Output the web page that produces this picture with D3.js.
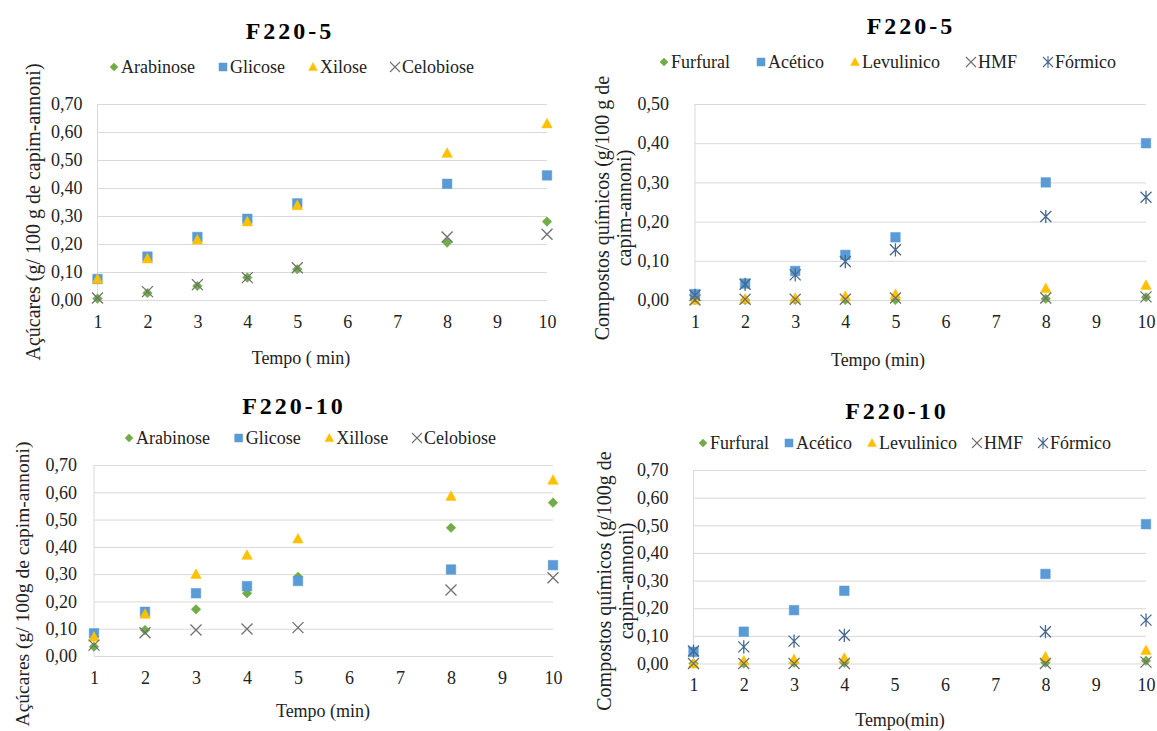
<!DOCTYPE html>
<html>
<head>
<meta charset="utf-8">
<script src="https://cdn.jsdelivr.net/npm/d3@7"></script>
<style>
  body { margin: 0; background: #fff; }
  svg text { font-family: "Liberation Serif", "Times New Roman", serif; }
</style>
</head>
<body>
<div id="chart"></div>
<script>
// x axis categories (Tempo, min) and sampling times
const categories = [1, 2, 3, 4, 5, 6, 7, 8, 9, 10];
const tempos = [1, 2, 3, 4, 5, 8, 10];
const temposSemCinco = [1, 2, 3, 4, 8, 10];

// y tick values
const ticksAcucares = [0, 0.1, 0.2, 0.3, 0.4, 0.5, 0.6, 0.7];
const ticksQuimicos5 = [0, 0.1, 0.2, 0.3, 0.4, 0.5];
const ticksQuimicos10 = [0, 0.1, 0.2, 0.3, 0.4, 0.5, 0.6, 0.7];

// F220-5, açúcares
const arabinose5 = [0.005, 0.025, 0.05, 0.08, 0.11, 0.205, 0.28];
const glicose5 = [0.075, 0.155, 0.225, 0.29, 0.345, 0.415, 0.445];
const xilose5 = [0.075, 0.148, 0.215, 0.28, 0.338, 0.525, 0.63];
const celobiose5 = [0.007, 0.03, 0.055, 0.08, 0.115, 0.225, 0.235];

// F220-5, compostos químicos
const furfural5 = [0, 0, 0, 0, 0, 0.003, 0.007];
const acetico5 = [0.015, 0.042, 0.074, 0.115, 0.16, 0.30, 0.40];
const levulinico5 = [0, 0.003, 0.005, 0.01, 0.015, 0.03, 0.038];
const hmf5 = [0, 0.002, 0.002, 0.002, 0.005, 0.005, 0.008];
const formico5 = [0.012, 0.04, 0.064, 0.098, 0.128, 0.213, 0.262];

// F220-10, açúcares
const arabinose10 = [0.034, 0.095, 0.171, 0.23, 0.29, 0.47, 0.562];
const glicose10 = [0.083, 0.162, 0.23, 0.256, 0.275, 0.317, 0.333];
const xilose10 = [0.07, 0.154, 0.30, 0.37, 0.43, 0.586, 0.645];
const celobiose10 = [0.04, 0.085, 0.095, 0.099, 0.104, 0.242, 0.287];

// F220-10, compostos químicos (no 5 min point)
const furfural10 = [0, 0, 0.003, 0.003, 0.003, 0.01];
const acetico10 = [0.042, 0.115, 0.193, 0.263, 0.324, 0.504];
const levulinico10 = [0, 0.01, 0.015, 0.02, 0.025, 0.048];
const hmf10 = [0, 0, 0, 0, 0, 0.005];
const formico10 = [0.045, 0.06, 0.081, 0.102, 0.115, 0.157];

const width = 1157;
const height = 731;

const colors = {
  green: "#70ad47",
  blue: "#5b9bd5",
  gold: "#ffc000",
  gray: "#707070",
  slate: "#44688f"
};

const fmt = v => d3.format(".2f")(v).replace(".", ",");

// marker paths, centred on 0,0
function marker(kind, r) {
  if (kind == "diamond") return `M0,${-r}L${r},0L0,${r}L${-r},0Z`;
  if (kind == "square") return `M${-r},${-r}H${r}V${r}H${-r}Z`;
  if (kind == "triangle") return `M0,${-r * 1.1}L${r * 1.1},${r * 0.9}L${-r * 1.1},${r * 0.9}Z`;
  if (kind == "times") return `M${-r},${-r}L${r},${r}M${-r},${r}L${r},${-r}`;
  // star: x with a vertical bar
  return `M${-r},${-r}L${r},${r}M${-r},${r}L${r},${-r}M0,${-r * 1.2}L0,${r * 1.2}`;
}
const filled = k => k == "diamond" || k == "square" || k == "triangle";

const panels = [
  {
    title: "F220-5", titleX: 290, titleY: 31,
    x0: 97.5, x1: 547, yZero: 300, yTop: 104, yMax: 0.7, yTicks: ticksAcucares, tickPad: 15,
    legendY: 67, legendStart: 109, legendEnd: 474,
    yTitle: ["Açúcares (g/ 100 g de capim-annoni)"], yTitleX: 33, yTitleY: 212, yTitleSize: 20,
    xTitle: "Tempo ( min)", xTitleX: 301, xTitleY: 358,
    series: [
      { name: "Arabinose", times: tempos, values: arabinose5, shape: "diamond", color: colors.green },
      { name: "Glicose", times: tempos, values: glicose5, shape: "square", color: colors.blue },
      { name: "Xilose", times: tempos, values: xilose5, shape: "triangle", color: colors.gold },
      { name: "Celobiose", times: tempos, values: celobiose5, shape: "times", color: colors.gray }
    ]
  },
  {
    title: "F220-5", titleX: 911, titleY: 26,
    x0: 695, x1: 1146, yZero: 300, yTop: 104, yMax: 0.5, yTicks: ticksQuimicos5, tickPad: 26,
    legendY: 62, legendStart: 659, legendEnd: 1116,
    yTitle: ["Compostos químicos  (g/100 g de", "capim-annoni)"], yTitleX: 602, yTitleY: 208, yTitleSize: 20,
    xTitle: "Tempo (min)", xTitleX: 878, xTitleY: 360,
    series: [
      { name: "Furfural", times: tempos, values: furfural5, shape: "diamond", color: colors.green },
      { name: "Acético", times: tempos, values: acetico5, shape: "square", color: colors.blue },
      { name: "Levulinico", times: tempos, values: levulinico5, shape: "triangle", color: colors.gold },
      { name: "HMF", times: tempos, values: hmf5, shape: "times", color: colors.gray },
      { name: "Fórmico", times: tempos, values: formico5, shape: "star", color: colors.slate }
    ]
  },
  {
    title: "F220-10", titleX: 294, titleY: 406,
    x0: 94, x1: 553, yZero: 656, yTop: 465, yMax: 0.7, yTicks: ticksAcucares, tickPad: 17,
    legendY: 438, legendStart: 124, legendEnd: 496,
    yTitle: ["Açúcares (g/ 100g de capim-annoni)"], yTitleX: 22, yTitleY: 584, yTitleSize: 19.5,
    xTitle: "Tempo (min)", xTitleX: 323, xTitleY: 711,
    series: [
      { name: "Arabinose", times: tempos, values: arabinose10, shape: "diamond", color: colors.green },
      { name: "Glicose", times: tempos, values: glicose10, shape: "square", color: colors.blue },
      { name: "Xillose", times: tempos, values: xilose10, shape: "triangle", color: colors.gold },
      { name: "Celobiose", times: tempos, values: celobiose10, shape: "times", color: colors.gray }
    ]
  },
  {
    title: "F220-10", titleX: 897, titleY: 411,
    x0: 693.5, x1: 1146, yZero: 663.5, yTop: 470, yMax: 0.7, yTicks: ticksQuimicos10, tickPad: 25,
    legendY: 443, legendStart: 698, legendEnd: 1111,
    yTitle: ["Compostos químicos  (g/100g de", "capim-annoni)"], yTitleX: 604, yTitleY: 581, yTitleSize: 20,
    xTitle: "Tempo(min)", xTitleX: 900, xTitleY: 720,
    series: [
      { name: "Furfural", times: temposSemCinco, values: furfural10, shape: "diamond", color: colors.green },
      { name: "Acético", times: temposSemCinco, values: acetico10, shape: "square", color: colors.blue },
      { name: "Levulinico", times: temposSemCinco, values: levulinico10, shape: "triangle", color: colors.gold },
      { name: "HMF", times: temposSemCinco, values: hmf10, shape: "times", color: colors.gray },
      { name: "Fórmico", times: temposSemCinco, values: formico10, shape: "star", color: colors.slate }
    ]
  }
];

const svg = d3.select("#chart")
  .append("svg")
  .attr("width", width)
  .attr("height", height)
  .attr("font-family", "'Liberation Serif', 'Times New Roman', serif");

svg.append("rect").attr("width", width).attr("height", height).attr("fill", "#fff");

function drawPanel(p) {
  const g = svg.append("g");

  const x = d3.scalePoint().domain(categories).range([p.x0, p.x1]);
  const y = d3.scaleLinear().domain([0, p.yMax]).range([p.yZero, p.yTop]);

  // gridlines + y tick labels
  g.append("g")
    .attr("transform", `translate(${p.x0},0)`)
    .call(d3.axisLeft(y).tickValues(p.yTicks).tickSize(-(p.x1 - p.x0)).tickPadding(p.tickPad).tickFormat(fmt))
    .call(a => a.select(".domain").remove())
    .call(a => a.selectAll("line").attr("stroke", "#d9d9d9"))
    .attr("font-family", null)
    .attr("font-size", 18)
    .call(a => a.selectAll("text").attr("fill", "#222"));

  // left axis line
  g.append("line")
    .attr("x1", p.x0).attr("x2", p.x0)
    .attr("y1", p.yTop).attr("y2", p.yZero)
    .attr("stroke", "#d9d9d9");

  // x tick labels
  g.append("g")
    .attr("transform", `translate(0,${p.yZero})`)
    .call(d3.axisBottom(x).tickSize(0).tickPadding(15))
    .call(a => a.select(".domain").remove())
    .attr("font-family", null)
    .attr("font-size", 18)
    .call(a => a.selectAll("text").attr("fill", "#222"));

  // points, series in order so later ones sit on top
  p.series.forEach(s => {
    g.append("g")
      .selectAll("path")
      .data(s.times.map((t, i) => ({ t: t, v: s.values[i] })))
      .join("path")
      .attr("transform", d => `translate(${x(d.t)},${y(d.v)})`)
      .attr("d", marker(s.shape, s.shape == "times" || s.shape == "star" ? 5.5 : 4.8))
      .attr("fill", filled(s.shape) ? s.color : "none")
      .attr("stroke", s.color)
      .attr("stroke-width", filled(s.shape) ? 0.5 : 1.3);
  });

  // title
  g.append("text")
    .attr("x", p.titleX).attr("y", p.titleY)
    .attr("text-anchor", "middle")
    .attr("dy", "0.35em")
    .attr("font-size", 24)
    .attr("font-weight", "bold")
    .attr("letter-spacing", 3)
    .text(p.title);

  // legend: lay out markers + names, spread evenly between start and end
  const leg = g.append("g");
  const items = p.series.map(s => {
    const it = leg.append("g");
    it.append("path")
      .attr("d", marker(s.shape, s.shape == "times" || s.shape == "star" ? 5 : 4))
      .attr("fill", filled(s.shape) ? s.color : "none")
      .attr("stroke", s.color)
      .attr("stroke-width", filled(s.shape) ? 0.5 : 1.1);
    const t = it.append("text")
      .attr("x", 7)
      .attr("dy", "0.35em")
      .attr("font-size", 18)
      .attr("fill", "#222")
      .text(s.name);
    return { g: it, w: 7 + t.node().getComputedTextLength() + 5 };
  });
  const total = d3.sum(items, d => d.w);
  const gap = (p.legendEnd - p.legendStart - total) / (items.length - 1);
  let cx = p.legendStart + 5;
  items.forEach(it => {
    it.g.attr("transform", `translate(${cx},${p.legendY})`);
    cx += it.w + gap;
  });

  // y axis title (rotated, 1 or 2 lines)
  p.yTitle.forEach((line, i) => {
    g.append("text")
      .attr("transform", `translate(${p.yTitleX + i * 22},${p.yTitleY}) rotate(-90)`)
      .attr("text-anchor", "middle")
      .attr("dy", "0.35em")
      .attr("font-size", p.yTitleSize)
      .attr("fill", "#222")
      .text(line);
  });

  // x axis title
  g.append("text")
    .attr("x", p.xTitleX).attr("y", p.xTitleY)
    .attr("text-anchor", "middle")
    .attr("dy", "0.35em")
    .attr("font-size", 18)
    .attr("fill", "#222")
    .text(p.xTitle);
}

panels.forEach(drawPanel);
</script>
</body>
</html>
